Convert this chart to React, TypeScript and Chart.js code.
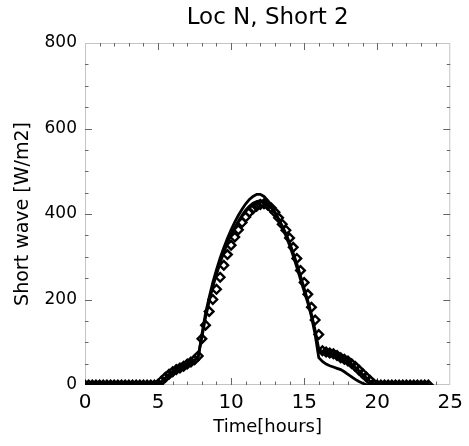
import React, { useEffect, useRef } from "react";
import { Chart, registerables } from "chart.js";

Chart.register(...registerables);

const TITLE = "Loc N, Short 2";
const X_TITLE = "Time[hours]";
const Y_TITLE = "Short wave [W/m2]";

// sampling step (hours) for all series
const STEP_HOURS = 0.25;

// observed values (diamonds), 0 .. 23.5 h
const observed = [
  0, 0, 0, 0, 0, 0, 0, 0, 0, 0, 0, 0, 0, 0, 0, 0, 0, 0, 0, 0,
  2, 10, 18, 25, 31, 36, 40, 44, 49, 54, 59, 68,
  108, 140, 172, 200, 224, 252, 280, 305, 327, 346, 363, 380,
  393, 404, 412, 418, 422, 424, 421, 414, 404, 391, 376, 362,
  344, 322, 296, 268, 240, 212, 182, 152, 118, 80, 77, 75,
  73, 69, 64, 60, 56, 50, 43, 35, 27, 19, 11, 3,
  0, 0, 0, 0, 0, 0, 0, 0, 0, 0, 0, 0, 0, 0, 0,
];

// model run A (outer curve, lower tail), 0 .. 23.75 h
const modelA = [
  0, 0, 0, 0, 0, 0, 0, 0, 0, 0, 0, 0, 0, 0, 0, 0, 0, 0, 0, 0, 0,
  8, 16, 22, 28, 33, 38, 42, 47, 52, 57, 66,
  118, 168, 205, 240, 270, 297, 321, 343, 363, 381, 397, 411,
  424, 434, 441, 446, 446, 441, 432, 420, 405, 388, 369, 349,
  327, 302, 275, 247, 219, 192, 160, 118, 64, 55, 49, 45,
  42, 39, 36, 31, 25, 19, 13, 8, 4, 1,
  0, 0, 0, 0, 0, 0, 0, 0, 0, 0, 0, 0, 0, 0, 0, 0, 0, 0,
];

// model run B (inner curve, upper tail), 0 .. 23.75 h
const modelB = [
  0, 0, 0, 0, 0, 0, 0, 0, 0, 0, 0, 0, 0, 0, 0, 0, 0, 0, 0, 0, 0,
  9, 17, 24, 30, 35, 39, 43, 48, 53, 58, 67,
  112, 158, 196, 230, 259, 286, 310, 332, 351, 368, 383, 397,
  409, 418, 425, 429, 431, 429, 423, 414, 402, 388, 372, 354,
  333, 309, 283, 255, 226, 197, 165, 128, 84, 78, 76, 74,
  71, 67, 63, 59, 54, 48, 41, 33, 25, 17, 9, 2,
  0, 0, 0, 0, 0, 0, 0, 0, 0, 0, 0, 0, 0, 0, 0, 0,
];

const X_MIN = 0;
const X_MAX = 25;
const X_MAJOR = 5;
const X_MINOR = 1;
const Y_MIN = 0;
const Y_MAX = 800;
const Y_MAJOR = 200;
const Y_MINOR = 50;

const toPoints = (vals: number[]) =>
  vals.map((v, i) => ({ x: i * STEP_HOURS, y: v }));

const framePlugin = {
  id: "frameTicks",
  beforeDatasetsDraw(chart: any) {
    const { ctx, chartArea } = chart;
    const { left, right, top, bottom } = chartArea;
    const xs = chart.scales.x;
    const ys = chart.scales.y;
    ctx.save();
    ctx.strokeStyle = "#c4c4c4";
    ctx.lineWidth = 1;
    ctx.strokeRect(left + 0.5, top + 0.5, right - left - 1, bottom - top - 1);
    ctx.strokeStyle = "#666";
    ctx.beginPath();
    for (let v = X_MIN; v <= X_MAX; v += X_MINOR) {
      if (v === X_MIN || v === X_MAX) continue;
      const len = v % X_MAJOR === 0 ? 7 : 3.5;
      const px = Math.round(xs.getPixelForValue(v)) + 0.5;
      ctx.moveTo(px, bottom);
      ctx.lineTo(px, bottom - len);
      ctx.moveTo(px, top);
      ctx.lineTo(px, top + len);
    }
    for (let v = Y_MIN; v <= Y_MAX; v += Y_MINOR) {
      if (v === Y_MIN || v === Y_MAX) continue;
      const len = v % Y_MAJOR === 0 ? 7 : 3.5;
      const py = Math.round(ys.getPixelForValue(v)) + 0.5;
      ctx.moveTo(left, py);
      ctx.lineTo(left + len, py);
      ctx.moveTo(right, py);
      ctx.lineTo(right - len, py);
    }
    ctx.stroke();
    ctx.restore();
  },
};

export default function App() {
  const ref = useRef<HTMLCanvasElement | null>(null);

  useEffect(() => {
    if (!ref.current) return;
    const font = "'DejaVu Sans', sans-serif";
    const chart = new Chart(ref.current, {
      type: "line",
      data: {
        datasets: [
          {
            label: "model A",
            data: toPoints(modelA),
            borderColor: "#000",
            borderWidth: 2.8,
            pointRadius: 0,
            fill: false,
          },
          {
            label: "model B",
            data: toPoints(modelB),
            borderColor: "#000",
            borderWidth: 2.8,
            pointRadius: 0,
            fill: false,
          },
          {
            label: "observed",
            data: toPoints(observed),
            showLine: false,
            pointStyle: "rectRot",
            pointRadius: 4.3,
            pointBorderWidth: 2.4,
            pointBorderColor: "#000",
            pointBackgroundColor: "rgba(0,0,0,0)",
            borderColor: "#000",
          },
        ],
      },
      options: {
        animation: false,
        responsive: false,
        maintainAspectRatio: false,
        layout: { padding: { left: 0, right: 15, top: 0, bottom: 0 } },
        plugins: {
          legend: { display: false },
          tooltip: { enabled: false },
          title: {
            display: true,
            text: TITLE,
            fullSize: false,
            color: "#000",
            font: { family: font, size: 23, weight: "normal" },
            padding: { top: 4, bottom: 11.4 },
          },
        },
        scales: {
          x: {
            type: "linear",
            min: X_MIN,
            max: X_MAX,
            grid: { display: false, drawTicks: false },
            border: { display: false },
            ticks: {
              stepSize: X_MAJOR,
              color: "#000",
              padding: 6,
              font: { family: font, size: 20 },
              maxRotation: 0,
            },
            title: {
              display: true,
              text: X_TITLE,
              color: "#000",
              font: { family: font, size: 18 },
              padding: { top: 0, bottom: 8 },
            },
            afterFit(scale: any) {
              scale.height = 61;
            },
          },
          y: {
            type: "linear",
            min: Y_MIN,
            max: Y_MAX,
            grid: { display: false, drawTicks: false },
            border: { display: false },
            ticks: {
              stepSize: Y_MAJOR,
              color: "#000",
              padding: 8,
              font: { family: font, size: 17 },
            },
            title: {
              display: true,
              text: Y_TITLE,
              color: "#000",
              font: { family: font, size: 19 },
              padding: { top: 12, bottom: 0 },
            },
            afterFit(scale: any) {
              scale.width = 85;
            },
          },
        },
      },
      plugins: [framePlugin],
    });
    return () => chart.destroy();
  }, []);

  return (
    <div
      style={{
        position: "fixed",
        left: 0,
        top: 0,
        width: 469,
        height: 446,
        background: "#fff",
      }}
    >
      <canvas ref={ref} width={469} height={446} style={{ display: "block" }} />
    </div>
  );
}
